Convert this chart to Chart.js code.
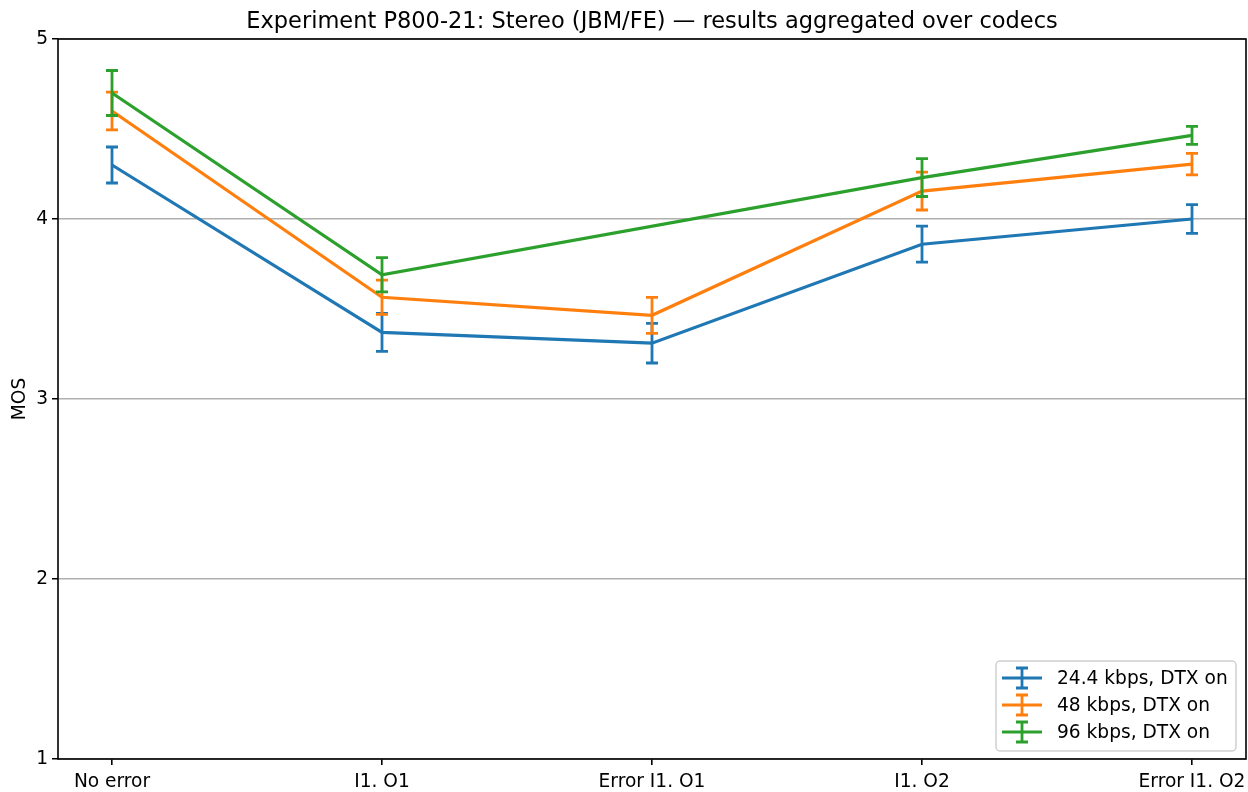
<!DOCTYPE html>
<html>
<head>
<meta charset="utf-8">
<script src="https://cdn.jsdelivr.net/npm/chart.js@4/dist/chart.umd.min.js"></script>
<style>
  html, body { margin: 0; padding: 0; background: #fff; }
  canvas { display: block; }
</style>
</head>
<body>
<canvas id="c" width="1248" height="792"></canvas>
<script>
const titleText = 'Experiment P800-21: Stereo (JBM/FE) \u2014 results aggregated over codecs';
const yLabel = 'MOS';
const categories = ['No error', 'I1. O1', 'Error I1. O1', 'I1. O2', 'Error I1. O2'];
const yTicks = [1, 2, 3, 4, 5];

const seriesNames = ['24.4 kbps, DTX on', '48 kbps, DTX on', '96 kbps, DTX on'];
const mos24 = [4.30, 3.37, 3.31, 3.86, 4.00];
const err24 = [0.10, 0.105, 0.11, 0.10, 0.08];
const mos48 = [4.60, 3.565, 3.465, 4.155, 4.305];
const err48 = [0.105, 0.095, 0.10, 0.105, 0.06];
const mos96 = [4.70, 3.69, null, 4.23, 4.465];
const err96 = [0.125, 0.095, null, 0.105, 0.05];

const colors = ['#1f77b4', '#ff7f0e', '#2ca02c'];
const FONT = '"DejaVu Sans", sans-serif';

function pts(arr) { return arr.map((v, i) => ({ x: i, y: v })); }

const allMos = [mos24, mos48, mos96];
const allErr = [err24, err48, err96];

const datasets = allMos.map((m, k) => ({
  label: seriesNames[k],
  data: pts(m),
  errors: allErr[k],
  borderColor: colors[k],
  backgroundColor: colors[k],
  borderWidth: 3.2,
  pointRadius: 0,
  pointHoverRadius: 0,
  tension: 0,
  spanGaps: true,
  order: 3 - k
}));

const errPlugin = {
  id: 'errbars',
  afterDatasetDraw(chart, args) {
    const ds = chart.data.datasets[args.index];
    const ctx = chart.ctx;
    const xs = chart.scales.x, ys = chart.scales.y;
    ctx.save();
    ctx.strokeStyle = ds.borderColor;
    ctx.lineWidth = 2.8;
    ds.errors.forEach((e, i) => {
      const p = ds.data[i];
      if (e == null || p.y == null) return;
      const x = xs.getPixelForValue(p.x);
      const y1 = ys.getPixelForValue(p.y - e);
      const y2 = ys.getPixelForValue(p.y + e);
      ctx.beginPath();
      ctx.moveTo(x, y1); ctx.lineTo(x, y2);
      ctx.moveTo(x - 6, y1); ctx.lineTo(x + 6, y1);
      ctx.moveTo(x - 6, y2); ctx.lineTo(x + 6, y2);
      ctx.stroke();
    });
    ctx.restore();
  },
  afterDraw(chart) {
    const ctx = chart.ctx;
    const a = chart.chartArea;
    ctx.save();
    // spines
    ctx.strokeStyle = '#000';
    ctx.lineWidth = 1.6;
    ctx.strokeRect(a.left, a.top, a.right - a.left, a.bottom - a.top);
    // title
    ctx.fillStyle = '#000';
    ctx.font = '22.5px ' + FONT;
    ctx.textAlign = 'center';
    ctx.textBaseline = 'alphabetic';
    ctx.fillText(titleText, (a.left + a.right) / 2, 28);
    // legend
    const bx = 996, by = 661, bw = 240, bh = 90;
    ctx.beginPath();
    ctx.roundRect(bx, by, bw, bh, 4);
    ctx.fillStyle = 'rgba(255,255,255,0.8)';
    ctx.fill();
    ctx.strokeStyle = '#d0d0d0';
    ctx.lineWidth = 1.5;
    ctx.stroke();
    ctx.font = '18.6px ' + FONT;
    ctx.textAlign = 'left';
    ctx.textBaseline = 'middle';
    chart.data.datasets.forEach((ds, k) => {
      const cy = 678 + k * 27;
      ctx.strokeStyle = ds.borderColor;
      ctx.lineWidth = 3.2;
      ctx.beginPath();
      ctx.moveTo(1002, cy); ctx.lineTo(1042, cy);
      ctx.stroke();
      ctx.lineWidth = 2.8;
      ctx.beginPath();
      ctx.moveTo(1022, cy - 10); ctx.lineTo(1022, cy + 10);
      ctx.moveTo(1016, cy - 10); ctx.lineTo(1028, cy - 10);
      ctx.moveTo(1016, cy + 10); ctx.lineTo(1028, cy + 10);
      ctx.stroke();
      ctx.fillStyle = '#000';
      ctx.fillText(ds.label, 1057, cy + 1);
    });
    ctx.restore();
  }
};

new Chart(document.getElementById('c'), {
  type: 'line',
  data: { datasets },
  plugins: [errPlugin],
  options: {
    responsive: false,
    animation: false,
    devicePixelRatio: 1,
    layout: { padding: { top: 39, right: 2, left: 0, bottom: 0 } },
    plugins: {
      legend: { display: false },
      title: { display: false },
      tooltip: { enabled: false }
    },
    scales: {
      x: {
        type: 'linear',
        min: -0.2,
        max: 4.2,
        afterBuildTicks: s => { s.ticks = categories.map((c, i) => ({ value: i })); },
        afterFit: s => { s.height = 33; s.paddingLeft = 0; s.paddingRight = 0; },
        ticks: {
          autoSkip: false,
          maxRotation: 0,
          padding: 6,
          color: '#000',
          font: { family: FONT, size: 18.6 },
          callback: v => categories[Math.round(v)]
        },
        grid: { drawOnChartArea: false, drawTicks: true, tickLength: 6, tickColor: '#000', lineWidth: 1.6 },
        border: { display: false }
      },
      y: {
        min: 1,
        max: 5,
        afterBuildTicks: s => { s.ticks = yTicks.map(v => ({ value: v })); },
        afterFit: s => { s.width = 58; s.paddingTop = 0; s.paddingBottom = 0; },
        ticks: {
          padding: 4,
          color: '#000',
          font: { family: FONT, size: 18.6 }
        },
        grid: { color: '#b0b0b0', lineWidth: 1.5, drawTicks: true, tickLength: 6, tickColor: '#000' },
        border: { display: false },
        title: {
          display: true,
          text: yLabel,
          color: '#000',
          font: { family: FONT, size: 18.6 },
          padding: { top: 9, bottom: 0 }
        }
      }
    }
  }
});
</script>
</body>
</html>
